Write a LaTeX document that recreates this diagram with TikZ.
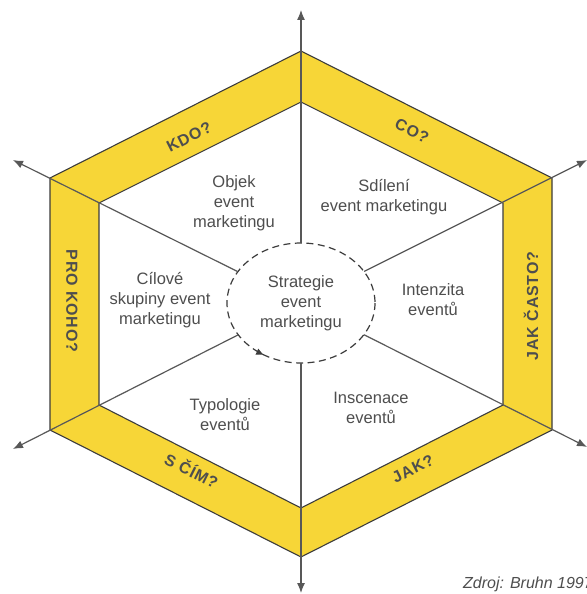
\documentclass[tikz,border=0pt]{standalone}
\usepackage{fontspec}
\setmainfont{Liberation Sans}
\usetikzlibrary{arrows.meta,shapes.geometric,decorations.markings}
\definecolor{bandyellow}{RGB}{247,214,55}
\definecolor{edgegray}{RGB}{60,60,60}
\definecolor{axisgray}{RGB}{88,88,88}
\definecolor{textgray}{RGB}{78,78,78}

\begin{document}
\begin{tikzpicture}[x=1pt,y=-1pt,
  band/.style={fill=bandyellow,draw=edgegray,line width=1.1pt,line join=miter},
  core/.style={fill=white,draw=edgegray,line width=1.1pt,line join=miter},
  axis/.style={draw=axisgray,line width=1.2pt,-{Latex[length=10pt,width=8pt]}},
  question/.style={font=\fontsize{16}{18}\selectfont\bfseries\addfontfeature{LetterSpace=5},
    text=textgray,inner sep=0pt},
  sector/.style={font=\fontsize{16.5}{20}\selectfont,text=textgray,align=center,inner sep=0pt},
  hub/.style={ellipse,minimum width=148pt,minimum height=120pt,inner sep=0pt,
    font=\fontsize{16.5}{20}\selectfont,text=textgray,align=center},
  ring/.style={draw=edgegray,line width=1.2pt,dash pattern=on 7pt off 4.5pt,
    postaction={decorate},
    decoration={markings,mark=at position 0.34 with {\arrowreversed{Latex[length=8pt,width=7pt]}}}}
]
\useasboundingbox (0,0) rectangle (586,594);
\fill[white] (0,0) rectangle (586,594);

% outer hexagon
\coordinate (oT)  at (301,51);
\coordinate (oUR) at (552,178);
\coordinate (oLR) at (552,430);
\coordinate (oB)  at (301,557);
\coordinate (oLL) at (50,430);
\coordinate (oUL) at (50,178);
% inner hexagon
\coordinate (iT)  at (301,102);
\coordinate (iUR) at (503,203);
\coordinate (iLR) at (503,405);
\coordinate (iB)  at (301,508);
\coordinate (iLL) at (99,405);
\coordinate (iUL) at (99,203);
% arrow tips
\coordinate (tT)  at (301,10);
\coordinate (tUR) at (587,160);
\coordinate (tLR) at (587,447);
\coordinate (tB)  at (301,593);
\coordinate (tLL) at (13,449);
\coordinate (tUL) at (13,160);

\filldraw[band] (oT) -- (oUR) -- (oLR) -- (oB) -- (oLL) -- (oUL) -- cycle;
\filldraw[core] (iT) -- (iUR) -- (iLR) -- (iB) -- (iLL) -- (iUL) -- cycle;

% central strategy
\node[hub] (hub) at (301,303) {Strategie\\event\\marketingu};
\draw[ring] (hub.center) ellipse [x radius=74, y radius=60];

% axes through the vertices
\foreach \t in {tT,tUR,tLR,tB,tLL,tUL}
  \draw[axis] (hub) -- (\t);

% questions in the band
\node[question,rotate=26.7]  (kdo)      at (189,137) {KDO?};
\node[question,rotate=-26.7] (co)       at (412,131) {CO?};
\node[question,rotate=90]    (jakcasto) at (531,306) {JAK ČASTO?};
\node[question,rotate=-90]   (prokoho)  at (72,301) {PRO KOHO?};
\node[question,rotate=-26.7] (scim)     at (192,470) {S ČÍM?};
\node[question,rotate=26.7]  (jak)      at (413,469) {JAK?};

% sector contents
\node[sector] (objekt)    at (234,203) {Objek\\event\\marketingu};
\node[sector] (sdileni)   at (384,197) {Sdílení\\event marketingu};
\node[sector] (intenzita) at (433,300) {Intenzita\\eventů};
\node[sector] (inscenace) at (371,408) {Inscenace\\eventů};
\node[sector] (typologie) at (225,415) {Typologie\\eventů};
\node[sector] (cilove)    at (160,300) {Cílové\\skupiny event\\marketingu};

% source
\node[font=\fontsize{16}{18}\selectfont\itshape,text=textgray,anchor=base west,inner sep=0pt]
  (zdroj) at (463,588) {Zdroj: Bruhn 1997};
\end{tikzpicture}
\end{document}
